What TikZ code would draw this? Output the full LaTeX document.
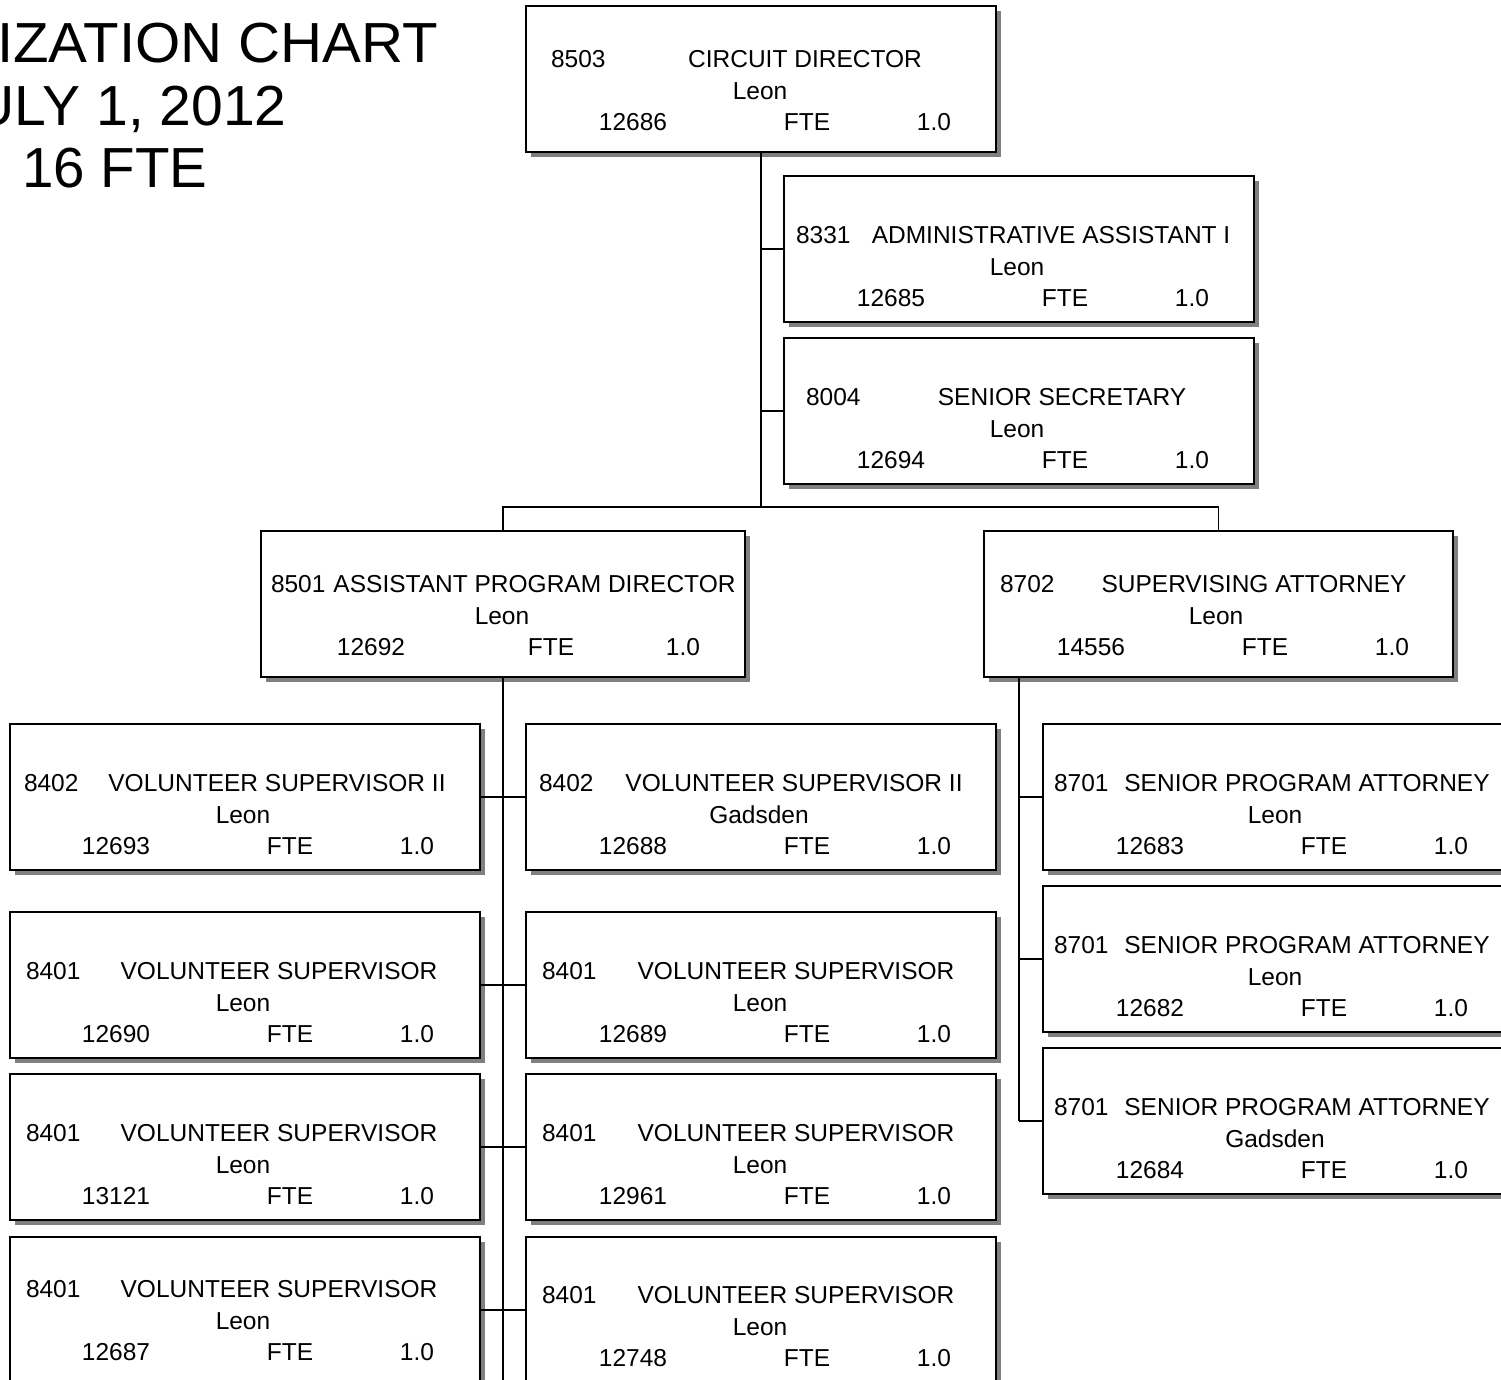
\documentclass[tikz,border=0pt]{standalone}
\usepackage{fontspec}
\setmainfont{Liberation Sans}
\usetikzlibrary{calc,shadows}
\tikzset{
  obx/.style={draw=black, line width=1.5pt, fill=white, minimum height=146pt, inner sep=0pt, outer sep=0pt,
    drop shadow={shadow xshift=5pt, shadow yshift=-5pt, fill=black!50, opacity=1}},
  txt/.style={inner sep=0pt, outer sep=0pt, text height=17.5pt, text depth=0pt, font=\fontsize{24.5pt}{28pt}\selectfont},
  ttl/.style={inner sep=0pt, font=\fontsize{56.5pt}{62pt}\selectfont},
  conn/.style={draw=black, line width=1.6pt}
}
\newcommand\obox[4]{\node[obx, minimum width=#4pt, anchor=north west] (#1) at (#2,#3) {};}
\newcommand\lone[6]{%
  \node[txt, anchor=west] (#1c) at ($(#1.north west)+(#3,#2)$) {#4};
  \node[txt] (#1t) at ($(#1.north west)+(#5,#2)$) {#6};}
\newcommand\lrest[8]{%
  \node[txt] (#1l) at ($(#1.north west)+(#3,#2+32)$) {#4};
  \node[txt] (#1i) at ($(#1.north west)+(#5,#2+63)$) {#6};
  \node[txt] (#1f) at ($(#1.north west)+(#7,#2+63)$) {FTE};
  \node[txt] (#1o) at ($(#1.north west)+(#8,#2+63)$) {1.0};}
\begin{document}
\begin{tikzpicture}[x=1pt, y=-1pt]
\useasboundingbox (0,0) rectangle (1501,1379);
\clip (0,0) rectangle (1501,1379);

% title
\node[ttl, anchor=base west] (ttl1) at (-3,62) {\scalebox{1.03}[1]{IZATION CHART}};
\node[ttl, anchor=base east] (ttl2) at (287,125) {\scalebox{1.01}[1]{JULY 1, 2012}};
\node[ttl, anchor=base] (ttl3) at (115,187) {16 FTE};

\coordinate (hb) at (0,507);
\coordinate (pend) at (0,1395);
\obox{top}{526}{6}{470}
\obox{adm}{784}{176}{470}
\obox{sec}{784}{338}{470}
\obox{apd}{261}{531}{484}
\obox{sa}{984}{531}{469}
\obox{lA}{10}{724}{470}
\obox{rA}{526}{724}{470}
\obox{lB}{10}{912}{470}
\obox{rB}{526}{912}{470}
\obox{lC}{10}{1074}{470}
\obox{rC}{526}{1074}{470}
\obox{lD}{10}{1237}{470}
\obox{rD}{526}{1237}{470}
\obox{aA}{1043}{724}{470}
\obox{aB}{1043}{886}{470}
\obox{aC}{1043}{1048}{470}

% connectors
\draw[conn] (top.south) -- (top.south |- hb);
\draw[conn] (top.south |- adm.west) -- (adm.west);
\draw[conn] (top.south |- sec.west) -- (sec.west);
\draw[conn] (apd.north) -- (apd.north |- hb) -- (sa.north |- hb) -- (sa.north);
\draw[conn] (apd.south) -- (apd.south |- pend);
\draw[conn] (lA.east) -- (rA.west);
\draw[conn] (lB.east) -- (rB.west);
\draw[conn] (lC.east) -- (rC.west);
\draw[conn] (lD.east) -- (rD.west);
\coordinate (sas) at ($(sa.south west)+(35,0)$);
\draw[conn] (sas) -- (sas |- aC.west);
\draw[conn] (sas |- aA.west) -- (aA.west);
\draw[conn] (sas |- aB.west) -- (aB.west);
\draw[conn] (sas |- aC.west) -- (aC.west);

% texts
\lone{top}{53}{25}{8503}{279}{CIRCUIT DIRECTOR}
\lrest{top}{53}{234}{Leon}{107}{12686}{281}{408}
\lone{adm}{59}{12}{8331}{267}{ADMINISTRATIVE ASSISTANT I}
\lrest{adm}{59}{233}{Leon}{107}{12685}{281}{408}
\lone{sec}{59}{22}{8004}{278}{SENIOR SECRETARY}
\lrest{sec}{59}{233}{Leon}{107}{12694}{281}{408}
\lone{apd}{53}{10}{8501}{273.5}{ASSISTANT PROGRAM DIRECTOR}
\lrest{apd}{53}{241}{Leon}{110}{12692}{290}{422}
\lone{sa}{53}{16}{8702}{270}{SUPERVISING ATTORNEY}
\lrest{sa}{53}{232}{Leon}{107}{14556}{281}{408}
\lone{lA}{59}{14}{8402}{267}{VOLUNTEER SUPERVISOR II}
\lrest{lA}{59}{233}{Leon}{106}{12693}{280}{407}
\lone{rA}{59}{13}{8402}{268}{VOLUNTEER SUPERVISOR II}
\lrest{rA}{59}{233}{Gadsden}{107}{12688}{281}{408}
\lone{lB}{59}{16}{8401}{269}{VOLUNTEER SUPERVISOR}
\lrest{lB}{59}{233}{Leon}{106}{12690}{280}{407}
\lone{rB}{59}{16}{8401}{270}{VOLUNTEER SUPERVISOR}
\lrest{rB}{59}{234}{Leon}{107}{12689}{281}{408}
\lone{lC}{59}{16}{8401}{269}{VOLUNTEER SUPERVISOR}
\lrest{lC}{59}{233}{Leon}{106}{13121}{280}{407}
\lone{rC}{59}{16}{8401}{270}{VOLUNTEER SUPERVISOR}
\lrest{rC}{59}{234}{Leon}{107}{12961}{281}{408}
\lone{lD}{52}{16}{8401}{269}{VOLUNTEER SUPERVISOR}
\lrest{lD}{52}{233}{Leon}{106}{12687}{280}{407}
\lone{rD}{58}{16}{8401}{270}{VOLUNTEER SUPERVISOR}
\lrest{rD}{58}{234}{Leon}{107}{12748}{281}{408}
\lone{aA}{59}{11}{8701}{264}{SENIOR PROGRAM ATTORNEY}
\lrest{aA}{59}{232}{Leon}{107}{12683}{281}{408}
\lone{aB}{59}{11}{8701}{264}{SENIOR PROGRAM ATTORNEY}
\lrest{aB}{59}{232}{Leon}{107}{12682}{281}{408}
\lone{aC}{59}{11}{8701}{264}{SENIOR PROGRAM ATTORNEY}
\lrest{aC}{59}{232}{Gadsden}{107}{12684}{281}{408}
\end{tikzpicture}
\end{document}
